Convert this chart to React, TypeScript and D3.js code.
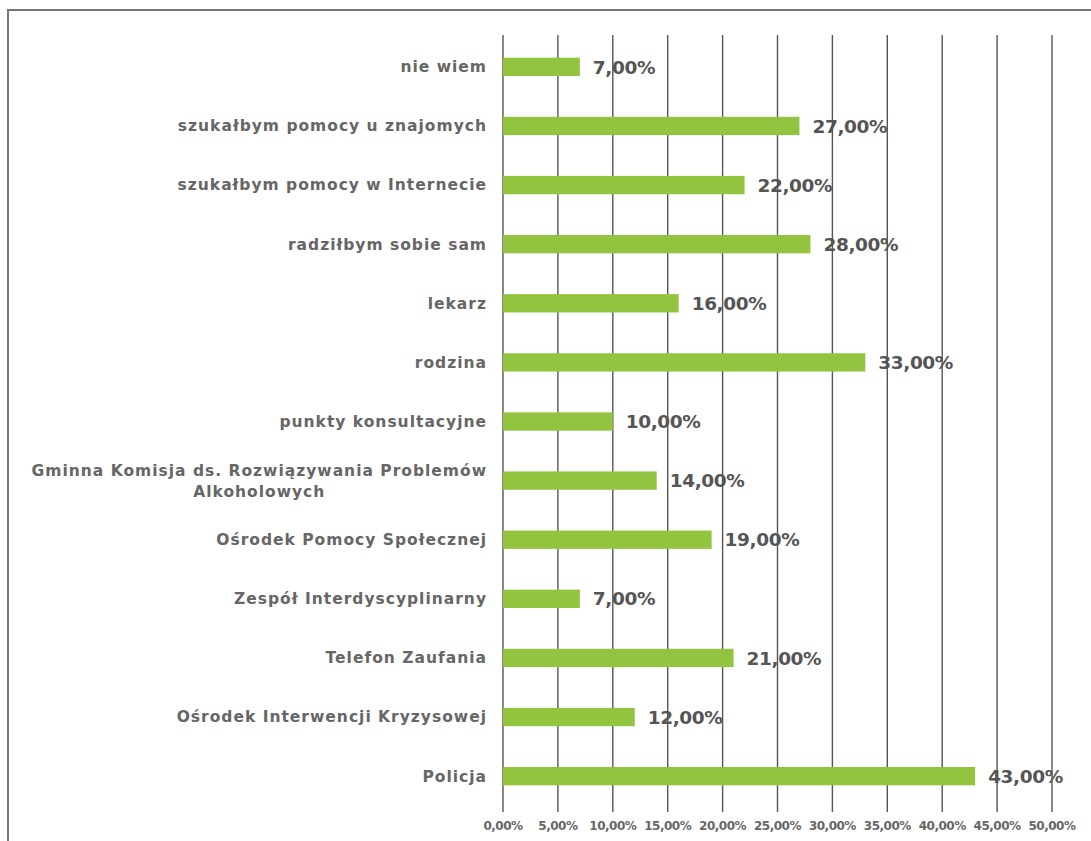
import React, { useEffect, useRef } from "react";
import * as d3 from "d3";

const categories = [
  "nie wiem",
  "szukałbym pomocy u znajomych",
  "szukałbym pomocy w Internecie",
  "radziłbym sobie sam",
  "lekarz",
  "rodzina",
  "punkty konsultacyjne",
  "Gminna Komisja ds. Rozwiązywania Problemów|Alkoholowych",
  "Ośrodek Pomocy Społecznej",
  "Zespół Interdyscyplinarny",
  "Telefon Zaufania",
  "Ośrodek Interwencji Kryzysowej",
  "Policja",
];
const values = [7, 27, 22, 28, 16, 33, 10, 14, 19, 7, 21, 12, 43];
const tickValues = [0, 5, 10, 15, 20, 25, 30, 35, 40, 45, 50];

const W = 1091;
const H = 841;
const FONT = "DejaVu Sans, Verdana, sans-serif";

export default function App() {
  const ref = useRef<SVGSVGElement | null>(null);
  useEffect(() => {
    const svg = d3.select(ref.current);
    svg.selectAll("*").remove();
    const x = d3.scaleLinear().domain([0, 50]).range([503, 1052]);
    const y = d3.scaleBand().domain(categories).range([37, 806]).paddingInner(0.69).paddingOuter(0.35);
    const fmt = (v: number) => v.toFixed(2).replace(".", ",") + "%";

    // frame
    svg.append("rect").attr("x", 8).attr("y", 10).attr("width", W + 20).attr("height", H + 20)
      .attr("fill", "none").attr("stroke", "#777").attr("stroke-width", 2);

    // gridlines
    svg.append("g").selectAll("line").data(tickValues).join("line")
      .attr("x1", (d) => x(d)).attr("x2", (d) => x(d))
      .attr("y1", 35).attr("y2", 812)
      .attr("stroke", "#555").attr("stroke-width", 1.4);

    // tick labels
    svg.append("g").selectAll("text").data(tickValues).join("text")
      .attr("x", (d) => x(d)).attr("y", 830)
      .attr("text-anchor", "middle")
      .attr("font-family", FONT)
      .attr("font-size", 12).attr("font-weight", "bold")
      .attr("letter-spacing", -0.5)
      .attr("fill", "#666")
      .text((d) => fmt(d));

    // bars
    svg.append("g").selectAll("rect").data(values).join("rect")
      .attr("x", x(0)).attr("y", (_d, i) => y(categories[i])!)
      .attr("width", (d) => x(d) - x(0)).attr("height", y.bandwidth())
      .attr("fill", "#93c43f");

    // value labels
    svg.append("g").selectAll("text").data(values).join("text")
      .attr("x", (d) => x(d) + 13)
      .attr("y", (_d, i) => y(categories[i])! + y.bandwidth() / 2)
      .attr("dy", "0.36em")
      .attr("font-family", FONT)
      .attr("font-size", 18.5).attr("font-weight", "bold")
      .attr("letter-spacing", -0.4)
      .attr("fill", "#555")
      .text((d) => fmt(d));

    // category labels
    const lab = svg.append("g")
      .attr("font-family", FONT)
      .attr("font-size", 15.5).attr("font-weight", "bold")
      .attr("letter-spacing", 1.0)
      .attr("fill", "#666");
    categories.forEach((c) => {
      const cy = y(c)! + y.bandwidth() / 2;
      const parts = c.split("|");
      if (parts.length === 1) {
        lab.append("text").attr("x", 487).attr("y", cy).attr("dy", "0.35em")
          .attr("text-anchor", "end").text(c);
      } else {
        const t1 = lab.append("text").attr("x", 487).attr("y", cy - 10).attr("dy", "0.35em")
          .attr("text-anchor", "end").text(parts[0]);
        const w = (t1.node() as SVGTextElement).getComputedTextLength();
        lab.append("text").attr("x", 487 - w / 2).attr("y", cy + 11).attr("dy", "0.35em")
          .attr("text-anchor", "middle").text(parts[1]);
      }
    });
  }, []);
  return (
    <svg ref={ref} width={W} height={H} style={{ position: "absolute", left: 0, top: 0, background: "#fff" }} />
  );
}
